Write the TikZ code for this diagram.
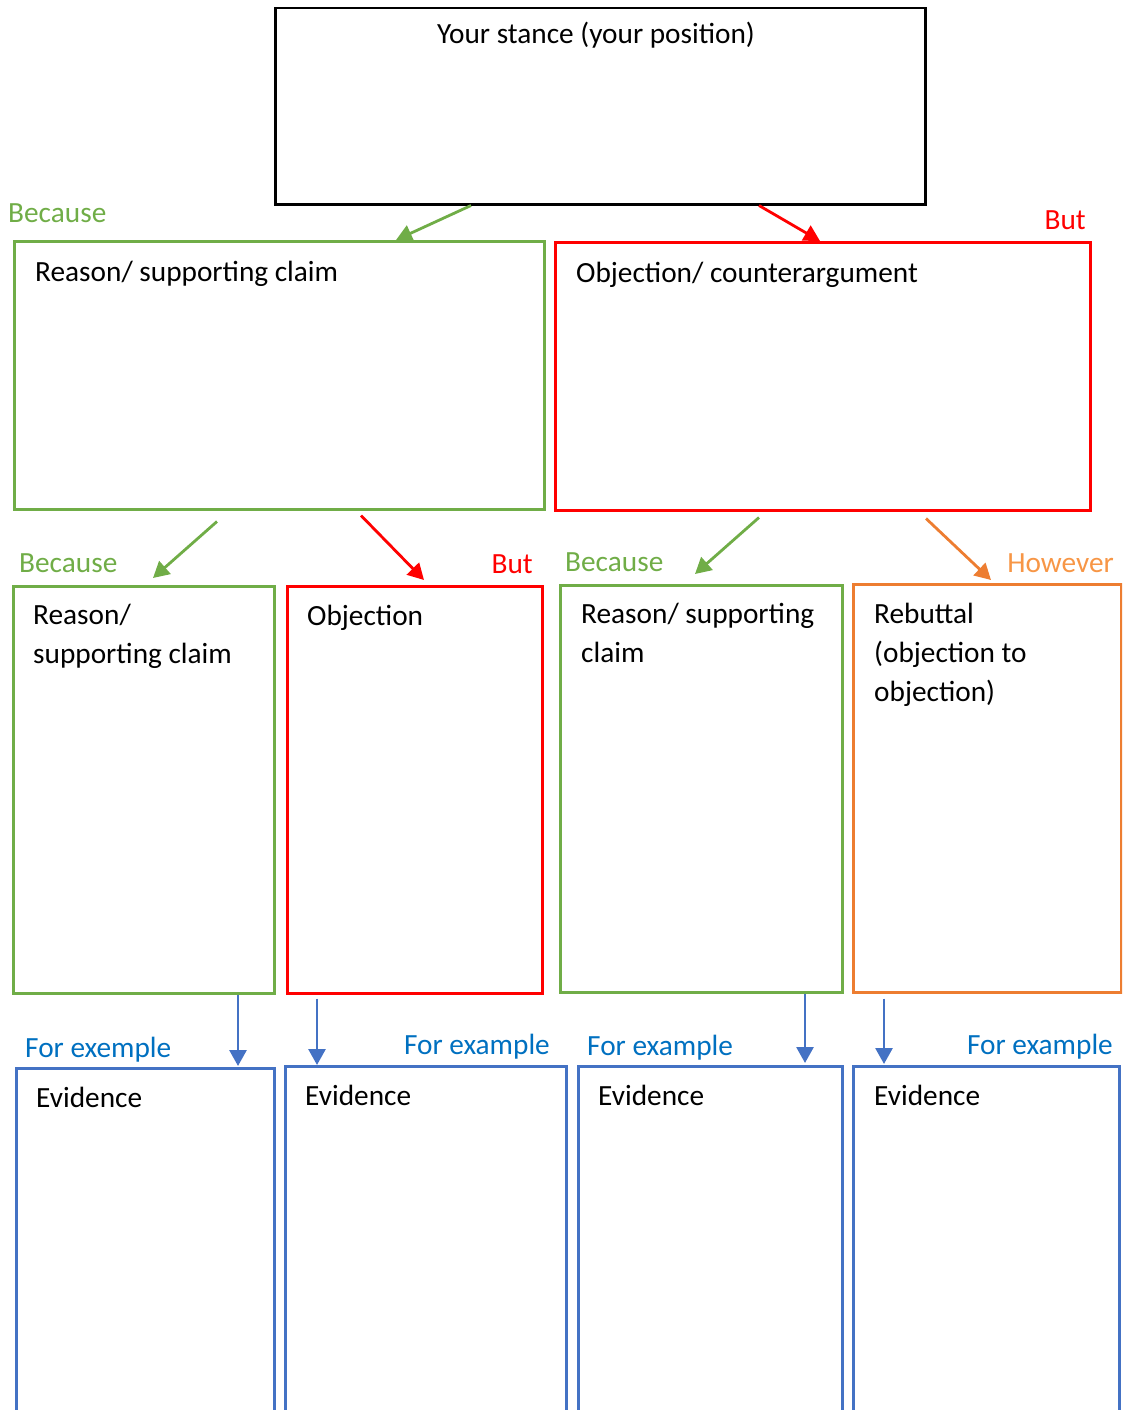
\documentclass[tikz,border=0pt]{standalone}
\usepackage{fontspec}
\setmainfont{Carlito}
\usetikzlibrary{arrows.meta,calc}
\definecolor{cgreen}{HTML}{70AD47}
\definecolor{cred}{HTML}{FF0000}
\definecolor{corange}{HTML}{ED7D31}
\definecolor{cblue}{HTML}{4472C4}
\definecolor{clblue}{HTML}{0070C0}
\definecolor{clorange}{HTML}{F79646}
\begin{document}
\begin{tikzpicture}[x=1pt,y=-1pt,
  box/.style={draw,line width=2.5pt,anchor=north west,inner sep=0pt},
  txt/.style={anchor=base west,font=\fontsize{29.3}{39}\selectfont,align=left,inner sep=0pt},
  lbl/.style={font=\fontsize{29.3}{34}\selectfont,inner sep=0pt},
  arr/.style={line width=2.8pt,-{Triangle[length=16pt,width=17pt]}}]
\useasboundingbox (0,0) rectangle (1122,1410);
\clip (0,0) rectangle (1122,1410);
% boxes
\node[box,draw=black,minimum width=650pt,minimum height=196pt] (stance) at (274,7) {};
\node[box,draw=cgreen,minimum width=530pt,minimum height=268pt] (reason) at (13,240) {};
\node[box,draw=cred,minimum width=535pt,minimum height=268pt] (obj) at (554,241) {};
\node[box,draw=cgreen,minimum width=261pt,minimum height=407pt] (reasonL) at (12,585) {};
\node[box,draw=cred,minimum width=255pt,minimum height=407pt] (objL) at (286,585) {};
\node[box,draw=cgreen,minimum width=282pt,minimum height=407pt] (reasonR) at (559,584) {};
\node[box,draw=corange,minimum width=268pt,minimum height=408pt] (rebut) at (852,583) {};
\node[box,draw=cblue,minimum width=258pt,minimum height=400pt] (ev1) at (15,1067) {};
\node[box,draw=cblue,minimum width=281pt,minimum height=345pt] (ev2) at (284,1065) {};
\node[box,draw=cblue,minimum width=264pt,minimum height=345pt] (ev3) at (577,1065) {};
\node[box,draw=cblue,minimum width=266pt,minimum height=345pt] (ev4) at (852,1065) {};
% box texts (base anchor = baseline of last line)
\node[txt,anchor=base] (tstance) at (596,44) {Your stance (your position)};
\node[txt] (treason) at (35,281) {Reason/ supporting claim};
\node[txt] (tobj) at (576,282) {Objection/ counterargument};
\node[txt] (treasonL) at (33,663) {Reason/\\supporting claim};
\node[txt] (tobjL) at (307,625) {Objection};
\node[txt] (treasonR) at (581,662) {Reason/ supporting\\claim};
\node[txt] (trebut) at (874,701) {Rebuttal\\(objection to\\objection)};
\node[txt] (tev1) at (36,1107) {Evidence};
\node[txt] (tev2) at (305,1105) {Evidence};
\node[txt] (tev3) at (598,1105) {Evidence};
\node[txt] (tev4) at (874,1105) {Evidence};
% labels
\node[lbl,anchor=base west,text=cgreen] (l1) at (8,222) {Because};
\node[lbl,anchor=base east,text=cred] (l2) at (1086,229) {But};
\node[lbl,anchor=base west,text=cgreen] (l3) at (19,572) {Because};
\node[lbl,anchor=base east,text=cred] (l4) at (533,573) {But};
\node[lbl,anchor=base west,text=cgreen] (l5) at (565,571) {Because};
\node[lbl,anchor=base east,text=clorange] (l6) at (1114,572) {However};
\node[lbl,anchor=base west,text=clblue] (l7) at (25,1057) {For exemple};
\node[lbl,anchor=base east,text=clblue] (l8) at (550,1054) {For example};
\node[lbl,anchor=base west,text=clblue] (l9) at (587,1055) {For example};
\node[lbl,anchor=base east,text=clblue] (l10) at (1113,1054) {For example};
% connectors
\draw[arr,cgreen] ([xshift=197pt]stance.south west) -- ([xshift=383pt]reason.north west);
\draw[arr,cred] ([xshift=485pt]stance.south west) -- ([xshift=266pt]obj.north west);
\draw[arr,cgreen] ([xshift=204pt,yshift=-11pt]reason.south west) -- ([xshift=141pt,yshift=7pt]reasonL.north west);
\draw[arr,cred] ([xshift=348pt,yshift=-5pt]reason.south west) -- ([xshift=138pt,yshift=5pt]objL.north west);
\draw[arr,cgreen] ([xshift=205pt,yshift=-6pt]obj.south west) -- ([xshift=136pt,yshift=10pt]reasonR.north west);
\draw[arr,corange] ([xshift=372pt,yshift=-7pt]obj.south west) -- ([xshift=139pt,yshift=3pt]rebut.north west);
\draw[arr,cblue] ([xshift=226pt]reasonL.south west) -- ([xshift=223pt,yshift=1pt]ev1.north west);
\draw[arr,cblue] ([xshift=31pt,yshift=-4pt]objL.south west) -- ([xshift=33pt]ev2.north west);
\draw[arr,cblue] ([xshift=246pt]reasonR.south west) -- ([xshift=228pt,yshift=2pt]ev3.north west);
\draw[arr,cblue] ([xshift=32pt,yshift=-5pt]rebut.south west) -- ([xshift=32pt,yshift=1pt]ev4.north west);
\end{tikzpicture}
\end{document}
